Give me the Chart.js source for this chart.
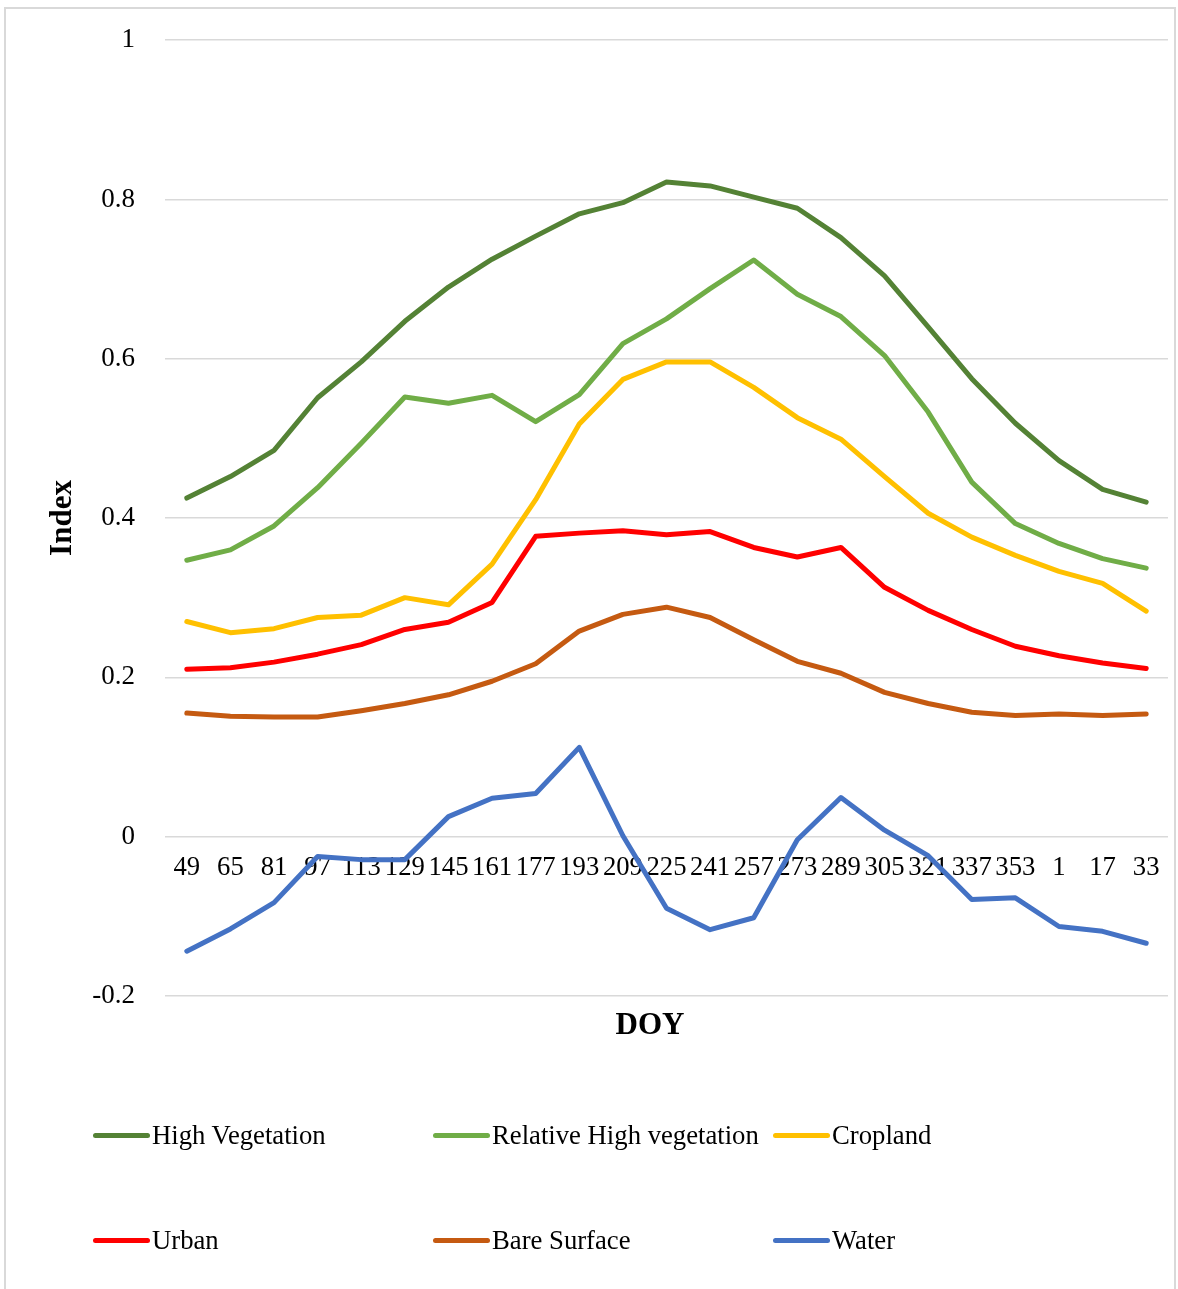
<!DOCTYPE html>
<html>
<head>
<meta charset="utf-8">
<script src="https://cdn.jsdelivr.net/npm/chart.js@4.4.1/dist/chart.umd.min.js"></script>
<style>
html,body{margin:0;padding:0;background:#fff;}
body{width:1178px;height:1289px;position:relative;overflow:hidden;font-family:"Liberation Serif","Times New Roman",serif;}
#frame{position:absolute;left:4px;top:7px;width:1172px;height:1320px;border:2px solid #d9d9d9;box-sizing:border-box;}
#c{position:absolute;left:0;top:-6px;}
#xtitle{position:absolute;left:550px;width:200px;top:1005px;height:38px;line-height:38px;text-align:center;font-size:31px;font-weight:bold;color:#000;}
#legend{position:absolute;left:0;top:0;width:1178px;height:1289px;}
.item{position:absolute;height:32px;display:flex;align-items:center;}
.sw{width:57px;height:5px;border-radius:3px;}
.lb{font-size:26.7px;color:#000;margin-left:2px;white-space:nowrap;line-height:32px;}
</style>
</head>
<body>
<div id="frame"></div>
<canvas id="c" width="1178" height="1048"></canvas>
<div id="xtitle">DOY</div>
<div id="legend"></div>
<script>
const categories = ['49','65','81','97','113','129','145','161','177','193','209','225','241','257','273','289','305','321','337','353','1','17','33'];

const highVegetation = [0.425,0.452,0.485,0.551,0.596,0.647,0.690,0.725,0.754,0.782,0.796,0.822,0.817,0.803,0.789,0.752,0.704,0.640,0.575,0.519,0.472,0.436,0.420];
const relHighVegetation = [0.347,0.360,0.390,0.438,0.494,0.552,0.544,0.554,0.521,0.555,0.619,0.650,0.688,0.724,0.681,0.653,0.604,0.533,0.445,0.393,0.368,0.349,0.337];
const cropland = [0.270,0.256,0.261,0.275,0.278,0.300,0.291,0.342,0.423,0.518,0.574,0.596,0.596,0.564,0.526,0.499,0.452,0.406,0.376,0.353,0.333,0.318,0.283];
const urban = [0.210,0.212,0.219,0.229,0.241,0.260,0.269,0.294,0.377,0.381,0.384,0.379,0.383,0.363,0.351,0.363,0.313,0.284,0.260,0.239,0.227,0.218,0.211];
const bareSurface = [0.155,0.151,0.150,0.150,0.158,0.167,0.178,0.195,0.217,0.258,0.279,0.288,0.275,0.247,0.220,0.205,0.181,0.167,0.156,0.152,0.154,0.152,0.154];
const water = [-0.144,-0.116,-0.083,-0.025,-0.029,-0.029,0.025,0.048,0.054,0.112,0.001,-0.090,-0.117,-0.102,-0.004,0.049,0.008,-0.024,-0.079,-0.077,-0.113,-0.119,-0.134];

const seriesNames = ['High Vegetation','Relative High vegetation','Cropland','Urban','Bare Surface','Water'];
const seriesColors = ['#548235','#70AD47','#FFC000','#FF0000','#C55A11','#4472C4'];
const seriesValues = [highVegetation, relHighVegetation, cropland, urban, bareSurface, water];

const yMin = -0.2, yMax = 1, yStep = 0.2;
const FONT = '"Liberation Serif","Times New Roman",serif';

const datasets = seriesNames.map((n,i)=>({
  label:n, data:seriesValues[i], borderColor:seriesColors[i], backgroundColor:seriesColors[i],
  borderWidth:5, pointRadius:0, pointHoverRadius:0, tension:0, fill:false,
  borderCapStyle:'round', borderJoinStyle:'round'
}));

const chart = new Chart(document.getElementById('c'), {
  type:'line',
  data:{labels:categories, datasets},
  options:{
    responsive:false, animation:false, devicePixelRatio:1,
    layout:{padding:{top:40,right:10,left:0,bottom:40}},
    plugins:{
      legend:{display:false},
      tooltip:{enabled:false}
    },
    scales:{
      x:{
        position:{y:0}, offset:true,
        grid:{display:false, drawTicks:false}, border:{display:false},
        ticks:{autoSkip:false, maxRotation:0, minRotation:0, padding:15, color:'#000',
          font:{family:FONT, size:26.7}},
        afterFit:(s)=>{s.height=0;}
      },
      y:{
        min:yMin, max:yMax,
        grid:{color:'#d9d9d9', lineWidth:1.5, drawTicks:false}, border:{display:false},
        ticks:{stepSize:yStep, padding:30, color:'#000', font:{family:FONT, size:27},
          callback:(v)=>String(Number(v.toFixed(1)))},
        title:{display:true, text:'Index', color:'#000', font:{family:FONT, size:31, weight:'bold'},
          padding:{top:44,bottom:0}},
        afterFit:(s)=>{s.width=165;}
      }
    }
  }
});

// HTML legend built from chart datasets (3 columns x 2 rows)
const legend = document.getElementById('legend');
const colX = [93, 433, 773];
const rowY = [1135, 1240];
chart.data.datasets.forEach((ds,i)=>{
  const it = document.createElement('div');
  it.className='item';
  it.style.left = colX[i%3]+'px';
  it.style.top = (rowY[Math.floor(i/3)]-16)+'px';
  const sw = document.createElement('div'); sw.className='sw'; sw.style.background=ds.borderColor;
  const lb = document.createElement('span'); lb.className='lb'; lb.textContent=ds.label;
  it.appendChild(sw); it.appendChild(lb); legend.appendChild(it);
});
</script>
</body>
</html>
